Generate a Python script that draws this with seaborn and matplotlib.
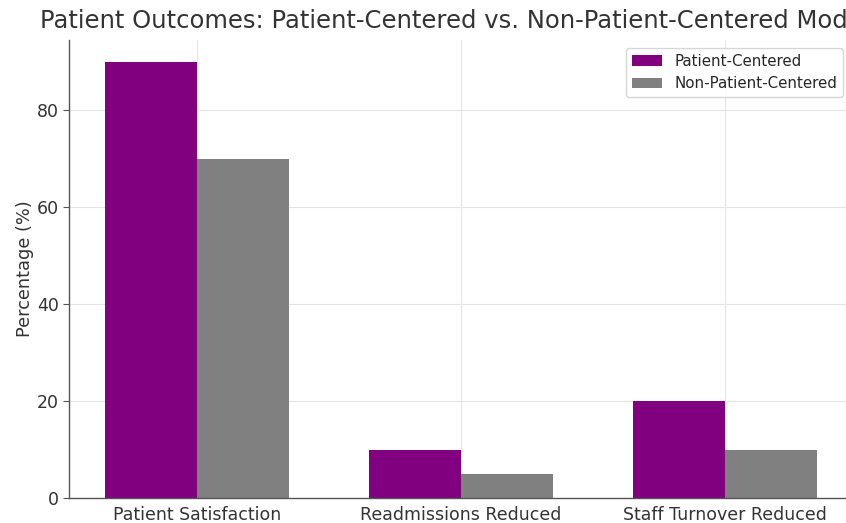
import matplotlib
matplotlib.use("Agg")
import matplotlib.pyplot as plt
import seaborn as sns
import pandas as pd

# data
categories = ["Patient Satisfaction", "Readmissions Reduced", "Staff Turnover Reduced"]
patient_centered = [90, 10, 20]
non_patient_centered = [70, 5, 10]
groups = ["Patient-Centered", "Non-Patient-Centered"]

df = pd.DataFrame({
    "Outcome": categories * 2,
    "Percentage": patient_centered + non_patient_centered,
    "Model": [groups[0]] * len(categories) + [groups[1]] * len(categories),
})

sns.set_style("whitegrid")
plt.rcParams["font.family"] = ["DejaVu Sans"]

fig = plt.figure(figsize=(8.46, 5.23), dpi=100)
# the original picture is cropped on the right, so the axes run past the edge
ax = fig.add_axes([69 / 846, 25 / 523, 784 / 846, 458 / 523])

sns.barplot(data=df, x="Outcome", y="Percentage", hue="Model",
            palette={groups[0]: "purple", groups[1]: "gray"},
            width=0.7, gap=0, saturation=1, linewidth=0, ax=ax)

ax.set_xlim(-0.485, 2.485)
ax.set_ylim(0, 94.5)
ax.grid(True, color="#e5e5e5", linewidth=0.8)
ax.set_axisbelow(True)
for s in ["top", "right"]:
    ax.spines[s].set_visible(False)
for s in ["left", "bottom"]:
    ax.spines[s].set_color("#555555")
    ax.spines[s].set_linewidth(1.0)
ax.tick_params(axis="both", colors="#555555", labelcolor="#333333",
               labelsize=12.5, length=4, width=0.8, left=True, bottom=False)
ax.tick_params(axis="x", pad=1.5)
ax.set_xlabel("")
ax.set_ylabel("Percentage (%)", fontsize=12.8, color="#333333", labelpad=2)
ax.set_title("Patient Outcomes: Patient-Centered vs. Non-Patient-Centered Models",
             fontsize=17.5, color="#333333", pad=9)
ax.legend(title=None, loc="upper right", fontsize=10.8, frameon=True,
          bbox_to_anchor=(0.997, 1.0))

fig.savefig("out.png", dpi=100)
